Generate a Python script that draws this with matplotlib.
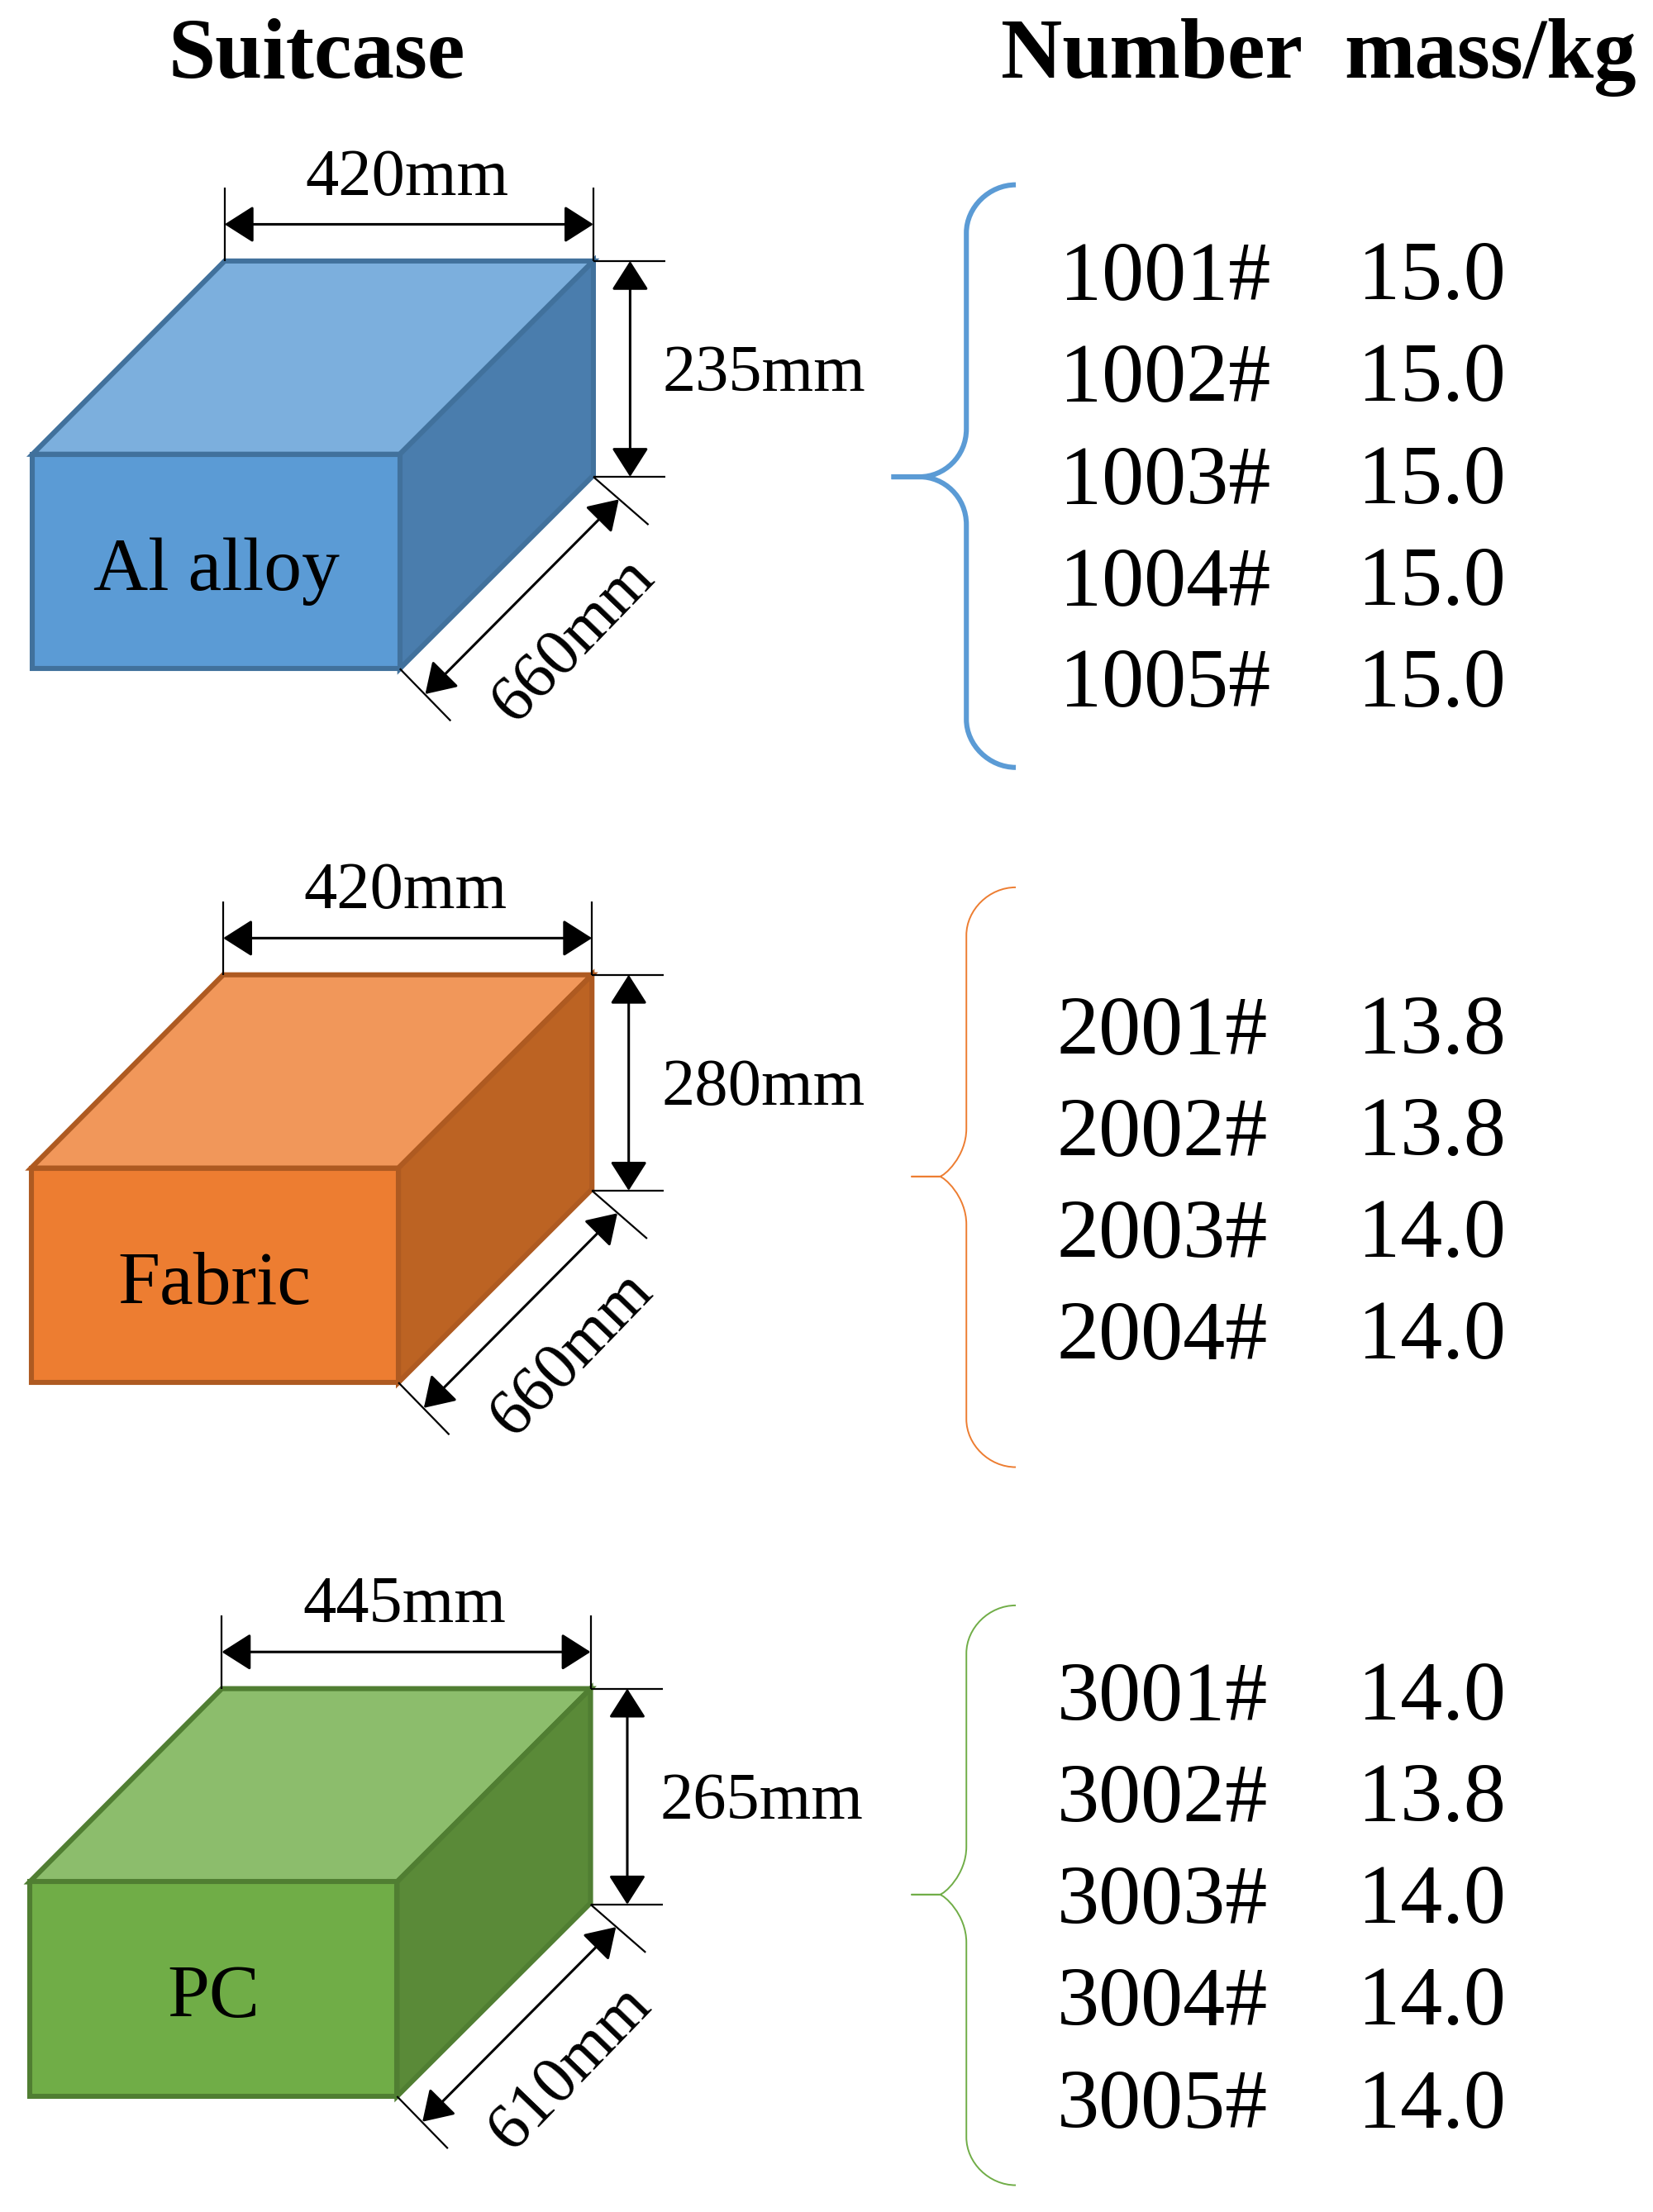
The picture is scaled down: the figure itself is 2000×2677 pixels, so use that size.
import matplotlib
matplotlib.use('Agg')
import matplotlib.pyplot as plt
from matplotlib.patches import Polygon, PathPatch
from matplotlib.path import Path

plt.rcParams['font.family'] = ['Liberation Serif', 'DejaVu Serif']

# suitcase groups, top to bottom
materials = ['Al alloy', 'Fabric', 'PC']
widths = ['420mm', '420mm', '445mm']
heights = ['235mm', '280mm', '265mm']
depths = ['660mm', '660mm', '610mm']
numbers = [['1001#', '1002#', '1003#', '1004#', '1005#'],
           ['2001#', '2002#', '2003#', '2004#'],
           ['3001#', '3002#', '3003#', '3004#', '3005#']]
masses = [['15.0', '15.0', '15.0', '15.0', '15.0'],
          ['13.8', '13.8', '14.0', '14.0'],
          ['14.0', '13.8', '14.0', '14.0', '14.0']]

front_cols = ['#5B9BD5', '#ED7D31', '#70AD47']
top_cols = ['#7CAFDD', '#F1975A', '#8CBD6C']
side_cols = ['#4A7DAD', '#BC6323', '#5A8A38']
edge_cols = ['#41719C', '#AE5A21', '#507E32']

# layout, in units of the 1170 wide view
box_x = [23, 22, 21]
box_y = [185, 691, 1197]
row_y = [[193, 265, 338, 410, 482], [728, 800, 872, 944], [1200, 1272, 1344, 1416, 1489]]
num_x = [750, 748, 748]
brace_top = [131, 629, 1138]
brace_bot = [544, 1040, 1549]
brace_mid = [338, 834, 1343]
brace_tip = [631, 645, 645]
brace_lw = [4.4, 1.4, 1.4]

fig = plt.figure(figsize=(20, 26.77), dpi=100)
ax = fig.add_axes([0, 0, 1, 1])
ax.set_xlim(0, 1170)
ax.set_ylim(1568, 0)
ax.axis('off')


def dim_arrow(x0, y0, x1, y1):
    ax.annotate('', xy=(x1, y1), xytext=(x0, y0),
                arrowprops=dict(arrowstyle='<|-|>,head_length=22,head_width=14', mutation_scale=1,
                                color='black', lw=2.2, shrinkA=0, shrinkB=0))


def line(x0, y0, x1, y1):
    ax.plot([x0, x1], [y0, y1], color='black', lw=1.6, solid_capstyle='butt')


def brace(top, bot, mid, tip, color, lw):
    spine, right = 684, 719
    r = 34
    verts = [(right, top), (spine + 16, top), (spine, top + 16), (spine, top + r),
             (spine, mid - r), (spine, mid - 14), (spine - 16, mid), (tip + 20, mid), (tip, mid),
             (tip + 20, mid), (spine - 16, mid), (spine, mid + 14), (spine, mid + r),
             (spine, bot - r), (spine, bot - 16), (spine + 16, bot), (right, bot)]
    codes = [Path.MOVETO, Path.CURVE4, Path.CURVE4, Path.CURVE4,
             Path.LINETO, Path.CURVE4, Path.CURVE4, Path.CURVE4, Path.LINETO,
             Path.LINETO, Path.CURVE4, Path.CURVE4, Path.CURVE4,
             Path.LINETO, Path.CURVE4, Path.CURVE4, Path.CURVE4]
    ax.add_patch(PathPatch(Path(verts, codes), fill=False, edgecolor=color, lw=lw))


for i, mat in enumerate(materials):
    x, y = box_x[i], box_y[i]
    dx, dy, w, h = 136, 137, 260, 152
    ec = edge_cols[i]
    ax.add_patch(Polygon([(x + dx, y), (x + dx + w + 1, y), (x + w, y + dy), (x, y + dy)],
                         fc=top_cols[i], ec=ec, lw=4.4, joinstyle='miter'))
    ax.add_patch(Polygon([(x + w, y + dy), (x + dx + w + 1, y), (x + dx + w + 1, y + h), (x + w, y + dy + h)],
                         fc=side_cols[i], ec=ec, lw=4.4, joinstyle='miter'))
    ax.add_patch(Polygon([(x, y + dy), (x + w, y + dy), (x + w, y + dy + h), (x, y + dy + h)],
                         fc=front_cols[i], ec=ec, lw=4.4, joinstyle='miter'))
    ax.text(x + 130, y + 233, mat, fontsize=66, ha='center', va='baseline')

    # width
    rx = x + dx + w + 1
    line(x + dx, y - 52, x + dx, y)
    line(rx, y - 52, rx, y)
    dim_arrow(x + dx, y - 26, rx, y - 26)
    ax.text(x + dx + 129, y - 47, widths[i], fontsize=58, ha='center', va='baseline')

    # height
    line(rx, y, rx + 51, y)
    line(rx, y + h + 1, rx + 51, y + h + 1)
    dim_arrow(rx + 26, y, rx + 26, y + h + 1)
    ax.text(rx + 49, y + 92, heights[i], fontsize=58, ha='left', va='baseline')

    # depth
    line(rx, y + h + 1, rx + 39, y + h + 35)
    line(x + w, y + dy + h, x + w + 36, y + dy + h + 37)
    dim_arrow(rx + 18, y + h + 17, x + w + 18, y + dy + h + 18)
    ax.text(rx - 14, y + h + 117, depths[i], fontsize=58, rotation=46, ha='center', va='center',
            rotation_mode='anchor')

    brace(brace_top[i], brace_bot[i], brace_mid[i], brace_tip[i], front_cols[i], brace_lw[i])

    for j, ry in enumerate(row_y[i]):
        ax.text(num_x[i], ry + 19, numbers[i][j], fontsize=73.5, ha='left', va='baseline')
        ax.text(961, ry + 19, masses[i][j], fontsize=73.5, ha='left', va='baseline')

ax.text(224, 55, 'Suitcase', fontsize=74, fontweight='bold', ha='center', va='baseline')
ax.text(815.5, 55, 'Number', fontsize=74, fontweight='bold', ha='center', va='baseline')
ax.text(1055, 55, 'mass/kg', fontsize=74, fontweight='bold', ha='center', va='baseline')

fig.savefig('out.png', dpi=100)
